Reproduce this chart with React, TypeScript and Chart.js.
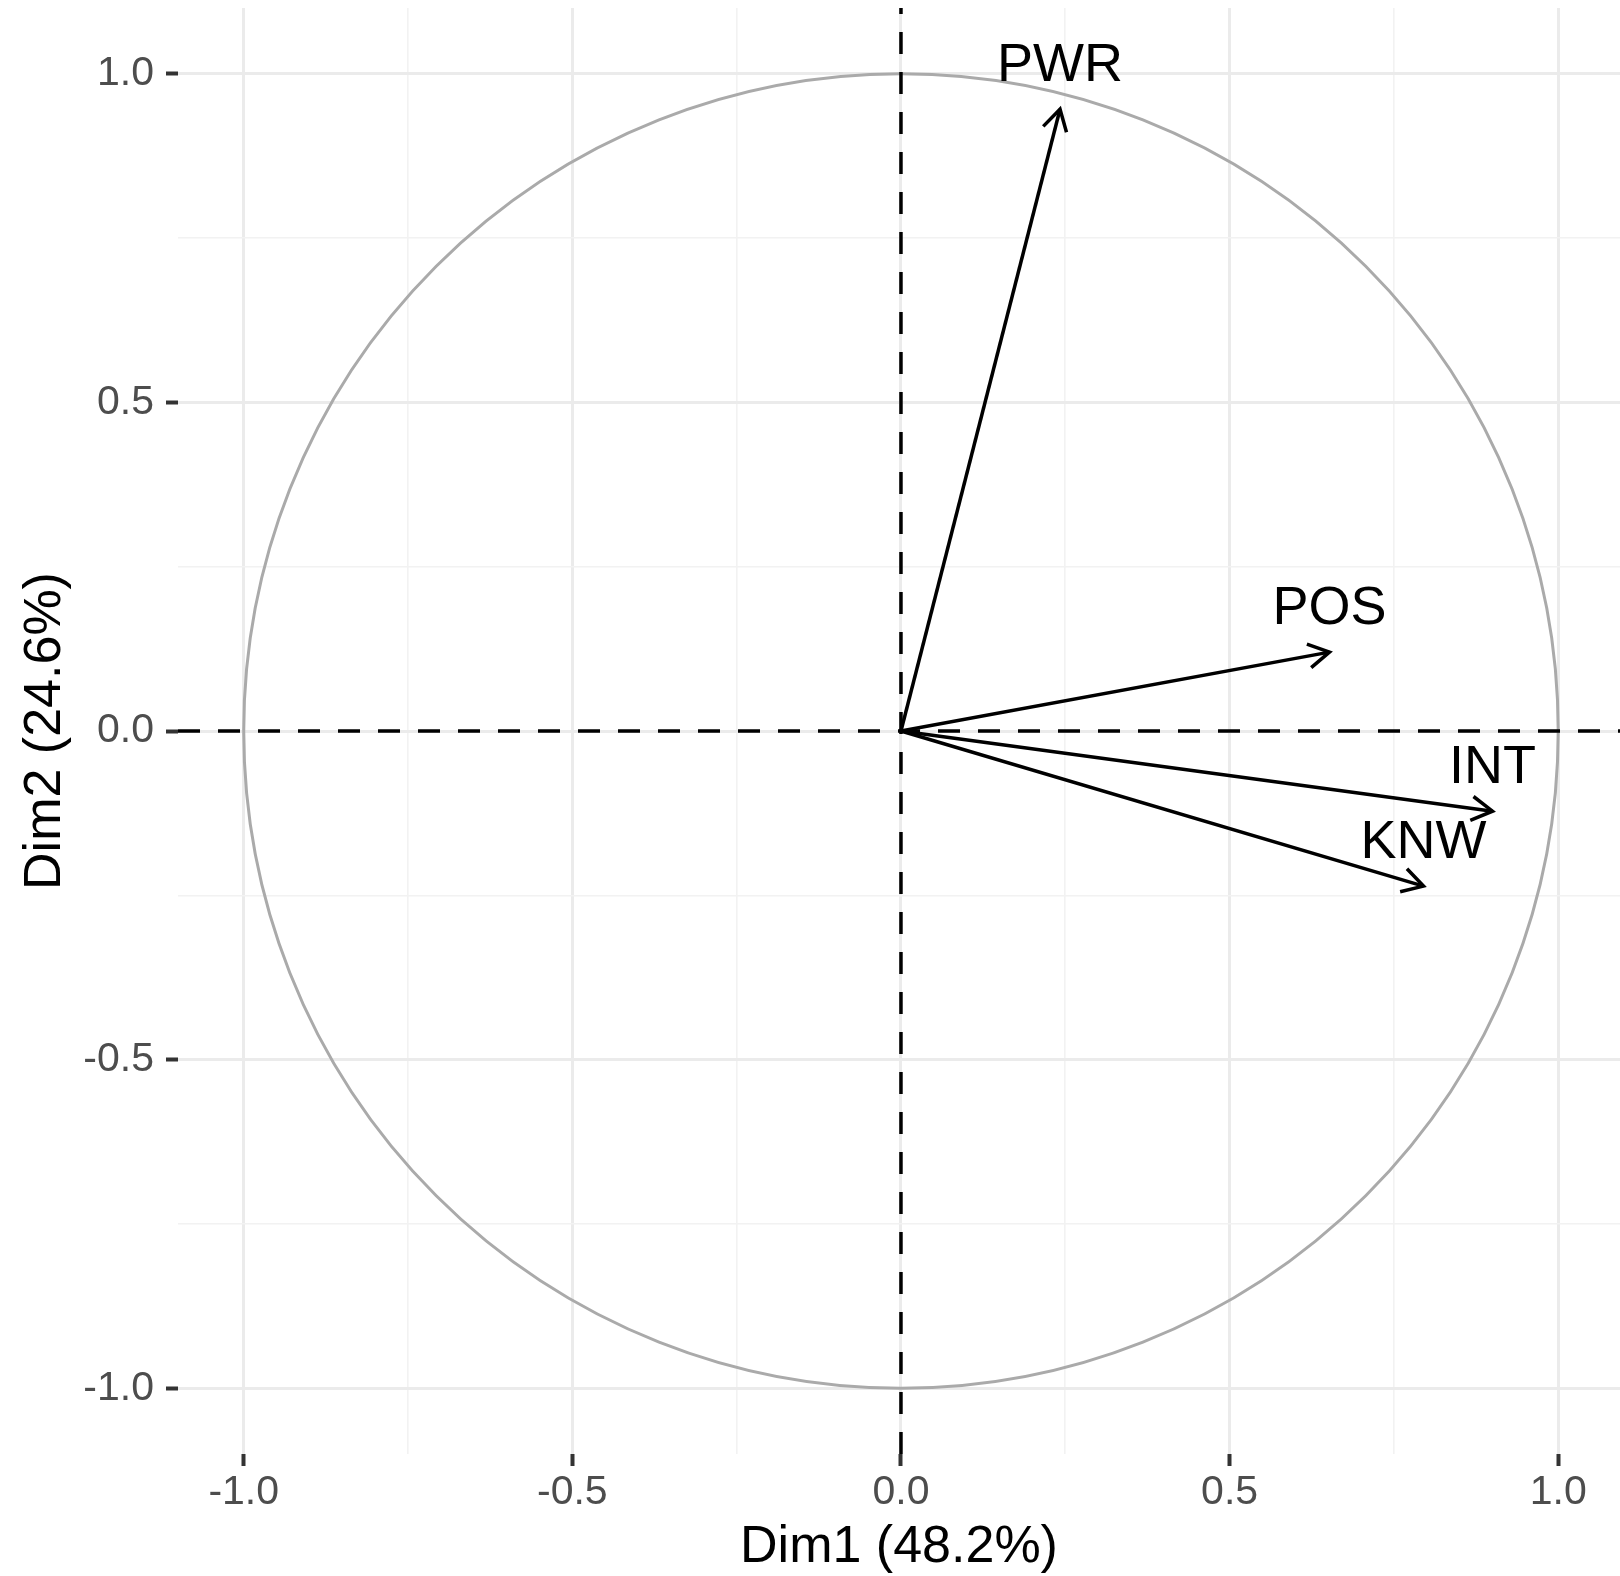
import React, { useEffect, useRef } from 'react';
import { Chart, registerables } from 'chart.js';

Chart.register(...registerables);

// ---- Data ----
const variables: string[] = ['PWR', 'POS', 'INT', 'KNW'];
const dim1: number[] = [0.242, 0.652, 0.9, 0.795];
const dim2: number[] = [0.946, 0.12, -0.122, -0.236];

const xTicks: number[] = [-1, -0.75, -0.5, -0.25, 0, 0.25, 0.5, 0.75, 1];
const yTicks: number[] = [-1, -0.75, -0.5, -0.25, 0, 0.25, 0.5, 0.75, 1];
const xTitle = 'Dim1 (48.2%)';
const yTitle = 'Dim2 (24.6%)';
const xMin = -1.1;
const xMax = 1.094;
const yMin = -1.1;
const yMax = 1.1;
const circleRadius = 1;

const FONT = "'Liberation Sans', Arial, Helvetica, sans-serif";

const isMajor = (v: number | undefined) =>
  v !== undefined && Math.abs(v * 2 - Math.round(v * 2)) < 1e-6;
const fmt = (v: number) => (isMajor(v) ? Number(v).toFixed(1) : '');

const refShapes = {
  id: 'refShapes',
  beforeDatasetsDraw(chart: any) {
    const { ctx, chartArea, scales } = chart;
    const x = scales.x;
    const y = scales.y;
    const cx = x.getPixelForValue(0);
    const cy = y.getPixelForValue(0);
    const rx = Math.abs(x.getPixelForValue(circleRadius) - cx);
    const ry = Math.abs(y.getPixelForValue(circleRadius) - cy);
    ctx.save();
    ctx.beginPath();
    ctx.rect(chartArea.left, chartArea.top, chartArea.right - chartArea.left, chartArea.bottom - chartArea.top);
    ctx.clip();
    ctx.strokeStyle = '#aaaaaa';
    ctx.lineWidth = 3;
    ctx.beginPath();
    ctx.ellipse(cx, cy, rx, ry, 0, 0, Math.PI * 2);
    ctx.stroke();
    ctx.strokeStyle = '#000000';
    ctx.lineWidth = 3.5;
    ctx.setLineDash([22, 18]);
    ctx.beginPath();
    ctx.moveTo(chartArea.left, cy);
    ctx.lineTo(chartArea.right, cy);
    ctx.stroke();
    ctx.beginPath();
    ctx.moveTo(cx, chartArea.bottom);
    ctx.lineTo(cx, chartArea.top);
    ctx.stroke();
    ctx.restore();
  },
};

const arrowHeads = {
  id: 'arrowHeads',
  afterDatasetsDraw(chart: any) {
    const { ctx } = chart;
    ctx.save();
    ctx.strokeStyle = '#000000';
    ctx.fillStyle = '#000000';
    ctx.lineWidth = 3.5;
    ctx.lineJoin = 'miter';
    ctx.lineCap = 'butt';
    ctx.font = `54px ${FONT}`;
    ctx.textAlign = 'center';
    ctx.textBaseline = 'middle';
    chart.data.datasets.forEach((_ds: any, i: number) => {
      const meta = chart.getDatasetMeta(i);
      const p0 = meta.data[0];
      const p1 = meta.data[1];
      if (!p0 || !p1) return;
      const ang = Math.atan2(p1.y - p0.y, p1.x - p0.x);
      const L = 24;
      const a = Math.PI / 6;
      ctx.beginPath();
      ctx.moveTo(p1.x - L * Math.cos(ang - a), p1.y - L * Math.sin(ang - a));
      ctx.lineTo(p1.x, p1.y);
      ctx.lineTo(p1.x - L * Math.cos(ang + a), p1.y - L * Math.sin(ang + a));
      ctx.stroke();
      ctx.fillText(variables[i], p1.x, p1.y - 43);
    });
    ctx.restore();
  },
};

export default function App() {
  const canvasRef = useRef<HTMLCanvasElement | null>(null);

  useEffect(() => {
    if (!canvasRef.current) return;
    const chart = new Chart(canvasRef.current, {
      type: 'scatter',
      data: {
        datasets: variables.map((name, i) => ({
          label: name,
          data: [
            { x: 0, y: 0 },
            { x: dim1[i], y: dim2[i] },
          ],
          showLine: true,
          borderColor: '#000000',
          backgroundColor: '#000000',
          borderWidth: 3.5,
          pointRadius: 0,
          pointHoverRadius: 0,
          fill: false,
        })),
      },
      options: {
        animation: false,
        responsive: false,
        layout: { padding: { top: 8, right: 0, bottom: 0, left: 0 } },
        plugins: {
          legend: { display: false },
          tooltip: { enabled: false },
        },
        scales: {
          x: {
            type: 'linear',
            min: xMin,
            max: xMax,
            afterBuildTicks: (s: any) => {
              s.ticks = xTicks.map((v) => ({ value: v }));
            },
            afterFit: (s: any) => {
              s.height = 122;
              s.paddingLeft = 0;
              s.paddingRight = 0;
              s.paddingTop = 0;
              s.paddingBottom = 0;
            },
            border: { display: false },
            grid: {
              color: (c: any) => (isMajor(c.tick?.value) ? '#ebebeb' : '#f2f2f2'),
              lineWidth: (c: any) => (isMajor(c.tick?.value) ? 3 : 1.6),
              tickColor: (c: any) => (isMajor(c.tick?.value) ? '#333333' : 'rgba(0,0,0,0)'),
              tickWidth: 4,
              tickLength: 12,
              drawTicks: true,
            },
            ticks: {
              autoSkip: false,
              maxRotation: 0,
              callback: (v: any) => fmt(Number(v)),
              color: '#4d4d4d',
              font: { family: FONT, size: 41, lineHeight: 1 },
              padding: 6,
            },
            title: {
              display: true,
              text: xTitle,
              color: '#000000',
              font: { family: FONT, size: 52, lineHeight: 1 },
              padding: { top: 0, bottom: 2 },
            },
          },
          y: {
            type: 'linear',
            min: yMin,
            max: yMax,
            afterBuildTicks: (s: any) => {
              s.ticks = yTicks.map((v) => ({ value: v }));
            },
            afterFit: (s: any) => {
              s.width = 178;
              s.paddingLeft = 0;
              s.paddingRight = 0;
              s.paddingTop = 0;
              s.paddingBottom = 0;
            },
            border: { display: false },
            grid: {
              color: (c: any) => (isMajor(c.tick?.value) ? '#ebebeb' : '#f2f2f2'),
              lineWidth: (c: any) => (isMajor(c.tick?.value) ? 3 : 1.6),
              tickColor: (c: any) => (isMajor(c.tick?.value) ? '#333333' : 'rgba(0,0,0,0)'),
              tickWidth: 4,
              tickLength: 12,
              drawTicks: true,
            },
            ticks: {
              autoSkip: false,
              callback: (v: any) => fmt(Number(v)),
              color: '#4d4d4d',
              font: { family: FONT, size: 41, lineHeight: 1 },
              padding: 12,
            },
            title: {
              display: true,
              text: yTitle,
              color: '#000000',
              font: { family: FONT, size: 52, lineHeight: 1 },
              padding: { top: 20, bottom: 0 },
            },
          },
        },
      },
      plugins: [refShapes, arrowHeads],
    } as any);
    return () => chart.destroy();
  }, []);

  return (
    <div
      style={{
        position: 'fixed',
        left: 0,
        top: 0,
        width: 1620,
        height: 1576,
        background: '#ffffff',
        overflow: 'hidden',
      }}
    >
      <canvas ref={canvasRef} width={1620} height={1576} style={{ display: 'block' }} />
    </div>
  );
}
